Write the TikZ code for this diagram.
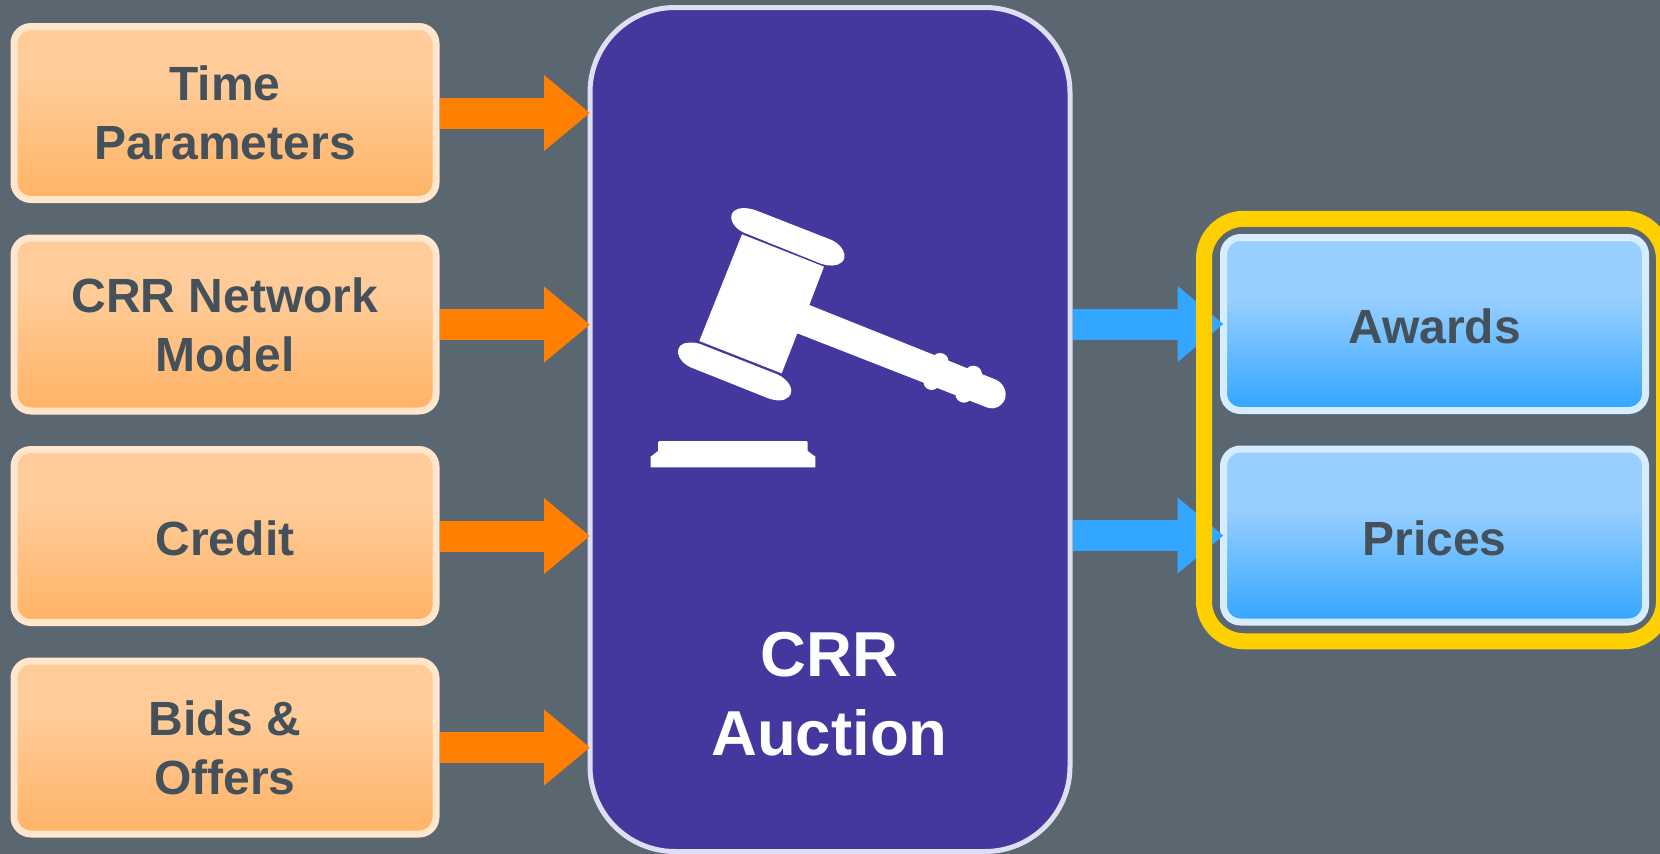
\documentclass[tikz,border=0pt]{standalone}
\usepackage{fontspec}
\setmainfont{Liberation Sans}
\usetikzlibrary{arrows.meta}
\definecolor{bgc}{HTML}{5B6770}
\definecolor{txtc}{HTML}{44505A}
\definecolor{orangec}{HTML}{FF8000}
\definecolor{bluec}{HTML}{33A6FF}
\definecolor{purplec}{HTML}{44379D}
\definecolor{purpleb}{HTML}{E0DEF5}
\definecolor{yellowc}{HTML}{FFD000}
\definecolor{orangeb}{HTML}{FFE6CC}
\definecolor{blueb}{HTML}{D6ECFF}
\definecolor{orange1}{HTML}{FFCC99}
\definecolor{orange2}{HTML}{FFB366}
\definecolor{blue1}{HTML}{99CFFF}
\definecolor{blue2}{HTML}{33A6FF}
\pgfdeclareverticalshading{orangegrad}{100bp}{color(0bp)=(orange2);color(25bp)=(orange2);color(60bp)=(orange1);color(100bp)=(orange1)}
\pgfdeclareverticalshading{bluegrad}{100bp}{color(0bp)=(blue2);color(25bp)=(blue2);color(58bp)=(blue1);color(100bp)=(blue1)}
\tikzset{
  boxbase/.style={rectangle,rounded corners=17pt,minimum width=422pt,minimum height=173pt,
    line width=7pt,outer sep=0pt,inner sep=0pt,align=center,text=txtc,
    font=\fontsize{48}{59}\selectfont\bfseries,
    execute at begin node={\rule{0pt}{40pt}}},
  inbox/.style={boxbase,draw=orangeb,shading=orangegrad},
  outbox/.style={boxbase,draw=blueb,shading=bluegrad},
  auctionbox/.style={rectangle,rounded corners=85pt,minimum width=480pt,minimum height=844pt,
    line width=5pt,outer sep=0pt,draw=purpleb,fill=purplec},
  auctiontext/.style={align=center,text=white,inner sep=0pt,
    font=\fontsize{63.5}{79}\selectfont\bfseries},
  highlightbox/.style={rectangle,rounded corners=40pt,minimum width=460pt,minimum height=422.5pt,
    line width=16pt,outer sep=0pt,draw=yellowc},
  inarrow/.style={draw=orangec,line width=31pt,-{Triangle[length=46pt,width=73pt]}},
  outarrow/.style={draw=bluec,line width=31pt,-{Triangle[length=46pt,width=73pt]}},
  gavelpart/.style={fill=white,draw=none}
}
\begin{document}
\begin{tikzpicture}[x=1pt,y=-1pt]
\useasboundingbox (0,0) rectangle (1660,854);
\clip (0,0) rectangle (1660,854);
\fill[bgc] (0,0) rectangle (1660,854);
\node[auctionbox] (auction) at (830,429.5) {};
\node[inbox] (time) at (225,113) {Time\\Parameters};
\node[inbox] (network) at (225,324.5) {CRR Network\\Model};
\node[inbox] (credit) at (225,536) {Credit};
\node[inbox] (bids) at (225,747.5) {Bids \&\\Offers};
\foreach \n in {time,network,credit,bids}
  \draw[inarrow] ([xshift=3.5pt]\n.east) -- (auction.west |- \n.east);
\node[outbox] (awards) at (1434.5,324) {Awards};
\node[outbox] (prices) at (1434.5,535.5) {Prices};
\foreach \n in {awards,prices}
  \draw[outarrow] ([xshift=2.5pt]auction.east |- \n.west) -- (\n.west);
\node[highlightbox] (highlight) at (1434,430) {};
\node[auctiontext] (auctionlabel) at (829.5,694) {CRR\\Auction};
\begin{scope}[shift={(620,190)},x=0.33333pt,y=-0.33333pt]
  \fill[gavelpart] (366,133) -- (612,230) -- (568,345) -- (1130,570)
     .. controls (1160,585) and (1165,625) .. (1145,642)
     .. controls (1130,658) and (1110,658) .. (1095,650)
     -- (532,430) -- (485,550) -- (238,453) -- cycle;
  \fill[gavelpart] (960,515) circle[radius=26];
  \fill[gavelpart] (1060,553) circle[radius=26];
  \fill[gavelpart] (935,575) circle[radius=25];
  \fill[gavelpart] (1032,612) circle[radius=26];
  \fill[gavelpart] (405,60) -- (635,150)
     .. controls (668,165) and (685,200) .. (665,217)
     .. controls (650,230) and (625,228) .. (605,222)
     -- (372,128) .. controls (340,115) and (322,80) .. (342,63)
     .. controls (355,52) and (380,52) .. (405,60) -- cycle;
  \fill[gavelpart] (238,461) -- (472,553)
     .. controls (505,568) and (525,600) .. (507,620)
     .. controls (492,636) and (465,632) .. (445,625)
     -- (212,532) .. controls (180,518) and (163,485) .. (182,466)
     .. controls (195,455) and (220,456) .. (238,461) -- cycle;
  \fill[gavelpart] (118,753) -- (560,753) -- (563,757) -- (563,783) -- (586,800) -- (586,832)
     -- (92,832) -- (92,800) -- (114,783) -- (114,757) -- cycle;
\end{scope}
\end{tikzpicture}
\end{document}
